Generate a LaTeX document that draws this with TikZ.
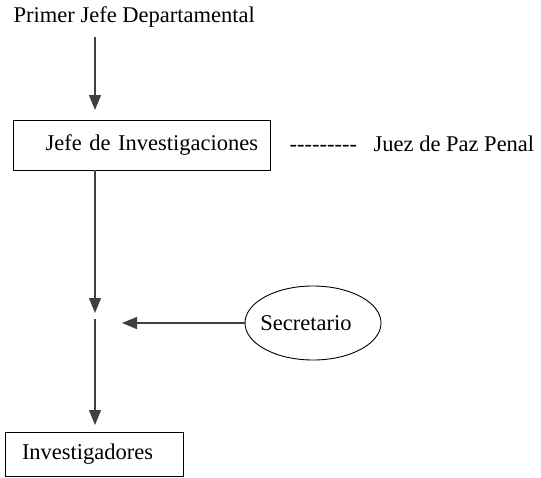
\documentclass[tikz,border=0pt]{standalone}
\usepackage{fontspec}
\setmainfont{Liberation Serif}
\usetikzlibrary{arrows.meta,shapes.geometric}
\definecolor{linkgray}{HTML}{3F4043}
\newcommand{\hy}{\mbox{-}}
\tikzset{
	box/.style={draw=black, line width=0.9pt, inner ysep=0pt, outer sep=0pt},
}
\begin{document}
\begin{tikzpicture}[->, >={Triangle[length=15pt,width=12pt]}, x=1pt, y=-1pt, draw=linkgray, line width=1.3pt, font=\fontsize{22.5}{27}\selectfont]
			\useasboundingbox (0,0) rectangle (541,477);
			\node[anchor=base west, inner sep=0pt] (primer) at (13,22.5) {Primer Jefe Departamental};
			\node[box, anchor=north west, text width=233pt, inner xsep=12pt, minimum height=50pt, align=right] (jefe) at (13,120) {Jefe de Investigaciones};
			\node[anchor=base west, inner sep=0pt] (guion) at (289,151) {\hy\hy\hy\hy\hy\hy\hy\hy\hy};
			\node[anchor=base west, inner sep=0pt] (juez) at (373,151) {Juez de Paz Penal};
			\node[ellipse, draw=black, line width=0.9pt, minimum width=136pt, minimum height=74pt, inner sep=0pt, label={[xshift=-7pt]center:Secretario}] (sec) at (313,323) {};
			\node[box, anchor=north west, text width=144pt, inner xsep=17pt, minimum height=44pt, align=left] (inv) at (5,432) {Investigadores};
			\coordinate (mid) at (95,316);
			\coordinate (sectip) at (122,323);
			\draw[shorten <=9.5pt, shorten >=10pt] (primer.south -| mid) -- (jefe.north -| mid);
			\draw[shorten >=3pt] (jefe.south -| mid) -- (mid);
			\draw[shorten <=3pt, shorten >=7pt] (mid) -- (inv.north -| mid);
			\draw (sec) -- (sectip);
		\end{tikzpicture}
\end{document}
